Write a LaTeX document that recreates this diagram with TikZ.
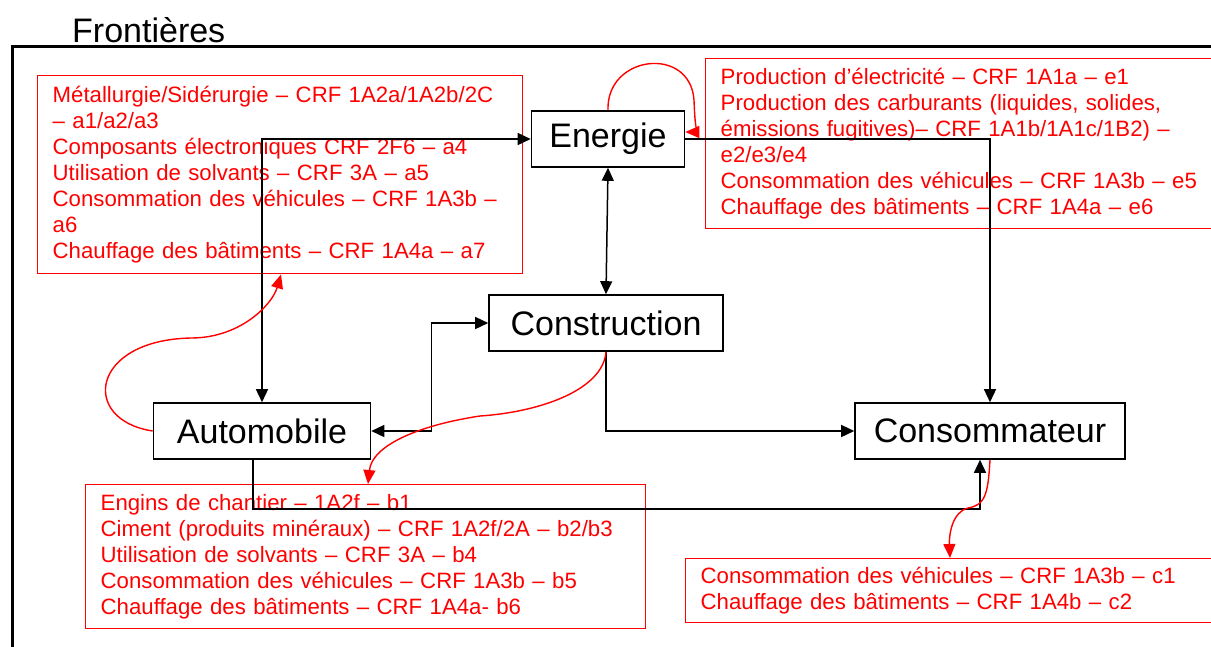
\documentclass[tikz,border=0pt]{standalone}
\usepackage{fontspec}
\setmainfont{Liberation Sans}
\usetikzlibrary{arrows.meta}

\tikzset{
  bloc/.style={draw, line width=1.6pt, fill=white, minimum height=56pt, inner sep=0pt,
    font=\fontsize{34}{40}\selectfont},
  liste/.style={draw=red, text=red, line width=1.4pt, align=left, anchor=north west,
    inner xsep=15pt, inner ysep=0pt, font=\fontsize{22.2}{26}\selectfont},
  fleche/.style={line width=1.5pt, -{Triangle[length=13pt,width=12pt]}},
  dfleche/.style={line width=1.5pt, {Triangle[length=13pt,width=12pt]}-{Triangle[length=13pt,width=12pt]}},
  rfleche/.style={red, line width=1.4pt, -{Triangle[length=14pt,width=12pt]}}
}

\begin{document}
\begin{tikzpicture}[x=1pt, y=-1pt]
    \useasboundingbox (0,0) rectangle (1211,646);
    \node[anchor=base west, font=\fontsize{34}{40}\selectfont, inner sep=0pt] (titre) at (72,42) {Frontières};
    \draw[line width=3pt] (1230,46) -| (12,670);

    \node[liste, text width=455pt, minimum height=198pt] (listeA) at (37,75)
        {Métallurgie/Sidérurgie – CRF 1A2a/1A2b/2C\\
         – a1/a2/a3\\
         Composants électroniques CRF 2F6 – a4\\
         Utilisation de solvants – CRF 3A – a5\\
         Consommation des véhicules – CRF 1A3b –\\
         a6\\
         Chauffage des bâtiments – CRF 1A4a – a7};
    \node[liste, text width=500pt, minimum height=170pt] (listeE) at (705,58)
        {Production d’électricité – CRF 1A1a – e1\\
         Production des carburants (liquides, solides,\\
         émissions fugitives)– CRF 1A1b/1A1c/1B2) –\\
         e2/e3/e4\\
         Consommation des véhicules – CRF 1A3b – e5\\
         Chauffage des bâtiments – CRF 1A4a – e6};
    \node[liste, text width=530pt, minimum height=144pt] (listeB) at (85,484)
        {Engins de chantier – 1A2f – b1\\
         Ciment (produits minéraux) – CRF 1A2f/2A – b2/b3\\
         Utilisation de solvants – CRF 3A – b4\\
         Consommation des véhicules – CRF 1A3b – b5\\
         Chauffage des bâtiments – CRF 1A4a- b6};
    \node[liste, text width=500pt, minimum height=64pt] (listeC) at (685,558)
        {Consommation des véhicules – CRF 1A3b – c1\\
         Chauffage des bâtiments – CRF 1A4b – c2};

    \node[bloc, minimum width=153pt] (energie) at (608,139) {Energie};
    \node[bloc, minimum width=234pt] (constr) at (606,323) {Construction};
    \node[bloc, minimum width=217pt] (auto) at (262,431) {Automobile};
    \node[bloc, minimum width=270pt] (conso) at (990,431) {Consommateur};

    \draw[dfleche] (auto.north) |- (energie.west);
    \draw[dfleche] (energie.south) -- (constr.north);
    \draw[fleche] (energie.east) -| (conso.north);
    \draw[dfleche] (auto.east) -- ++(60,0) |- (constr.west);
    \draw[fleche] (constr.south) |- (conso.west);
    \draw[fleche] ([xshift=-9pt]auto.south) -- ++(0,49) -| ([xshift=-10pt]conso.south);

    \draw[rfleche] (auto.west) .. controls (80,420) and (90,340) .. (191,338)
        .. controls (240,338) and (272,305) .. ([xshift=244pt]listeA.south west);
    \draw[rfleche] (constr.south) .. controls (603,390) and (540,412) .. (480,416)
        .. controls (420,425) and (372,445) .. ([xshift=283pt]listeB.north west);
    \draw[rfleche] (energie.north) .. controls (606,55) and (690,45) .. (694,100)
        .. controls (695,125) and (696,132) .. ([yshift=7pt]energie.east);
    \draw[rfleche] (conso.south) .. controls (988,495) and (985,505) .. (968,508)
        .. controls (952,512) and (949,535) .. ([xshift=265pt]listeC.north west);
\end{tikzpicture}
\end{document}
